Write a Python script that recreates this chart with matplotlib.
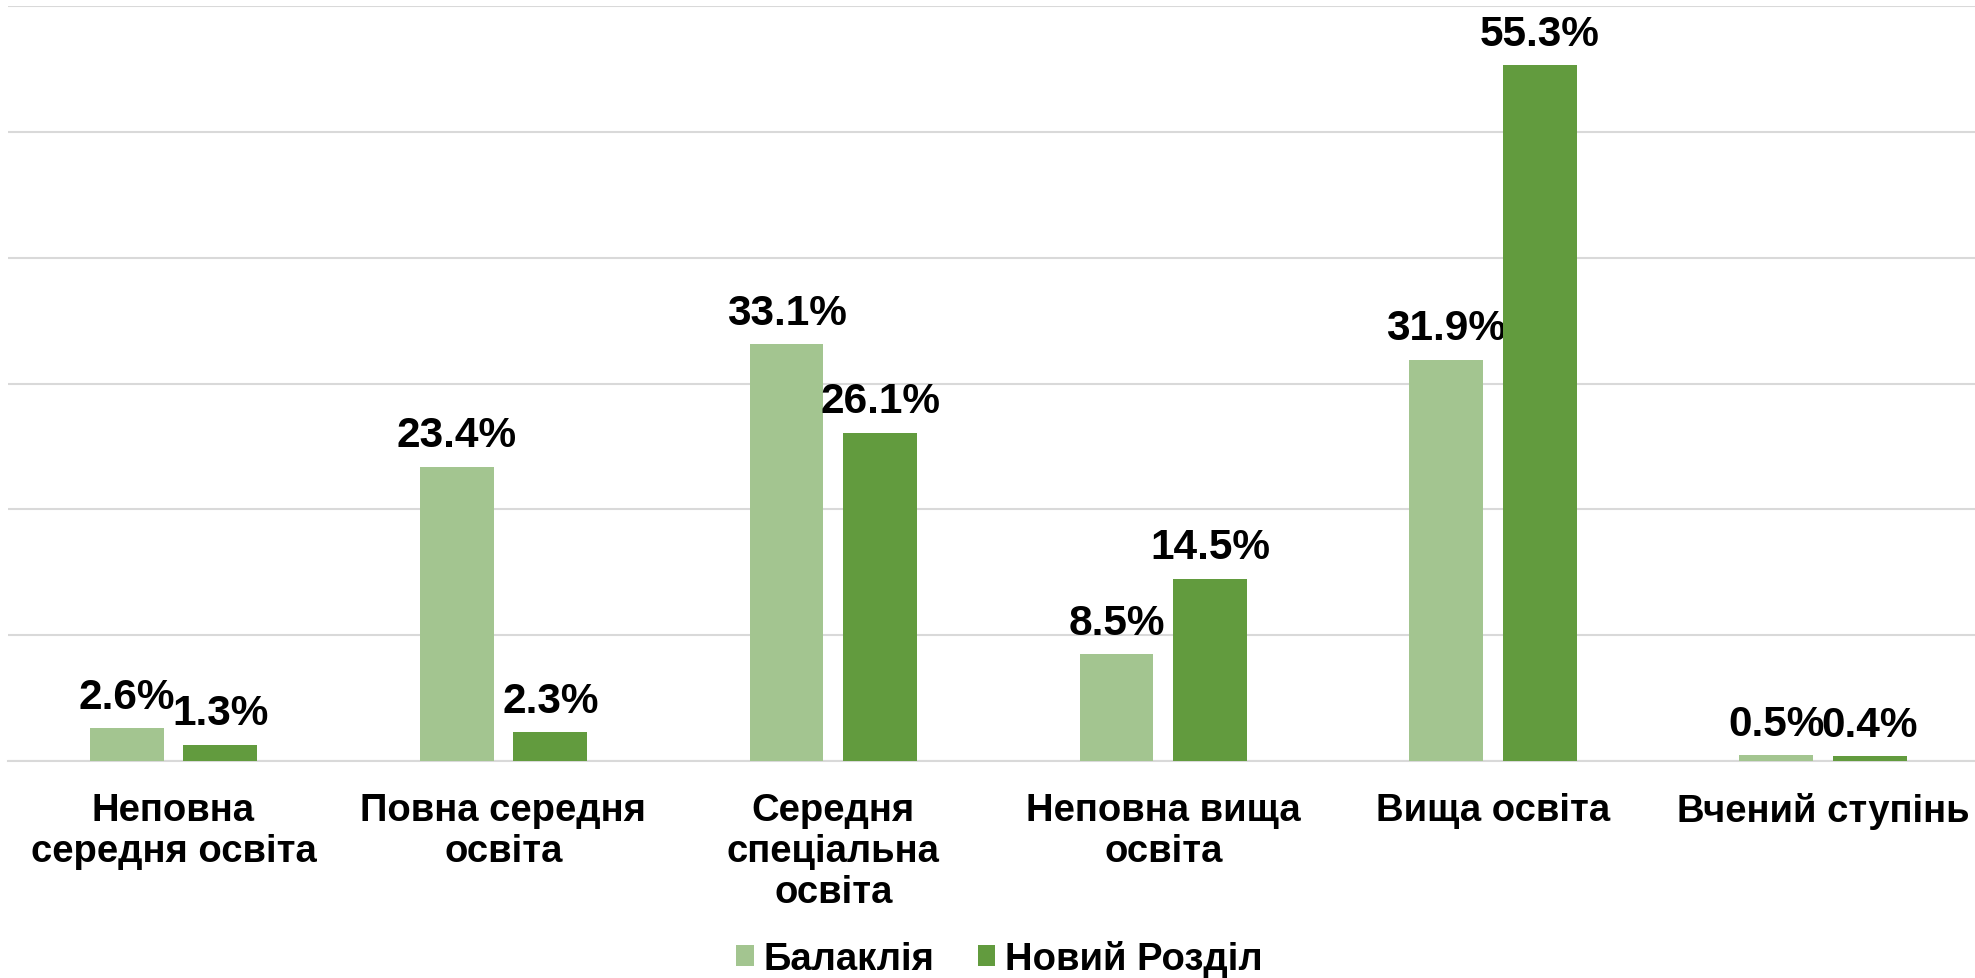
import numpy as np
import matplotlib
matplotlib.use("Agg")
import matplotlib.pyplot as plt
from matplotlib.patches import Patch

# data
categories = ["Неповна\nсередня освіта", "Повна середня\nосвіта", "Середня\nспеціальна\nосвіта",
              "Неповна вища\nосвіта", "Вища освіта", "Вчений ступінь"]
series_names = ["Балаклія", "Новий Розділ"]
balakliia = [2.6, 23.4, 33.1, 8.5, 31.9, 0.5]
novyi_rozdil = [1.3, 2.3, 26.1, 14.5, 55.3, 0.4]

colors = ["#A3C590", "#629B3E"]
FONT = "Liberation Sans"
FS = 27.5
FS_VAL = 30.5

fig = plt.figure(figsize=(19.75, 9.79), dpi=100)
ax = fig.add_axes([0.0043, 0.2217, 0.9957, 0.7711])

x = np.arange(len(categories))
width = 0.224
offset = 0.142

for vals, off, col in [(balakliia, -offset, colors[0]), (novyi_rozdil, offset, colors[1])]:
    bars = ax.bar(x + off, vals, width=width, color=col, zorder=3)
    for b, v in zip(bars, vals):
        ax.annotate(f"{v:.1f}%", (b.get_x() + b.get_width() / 2, v),
                    xytext=(0, 8), textcoords="offset points",
                    ha="center", va="bottom", fontsize=FS_VAL, fontweight="bold",
                    family=FONT, color="black")

ax.set_xlim(-0.5, 5.46)
ax.set_ylim(0, 60)
ax.set_yticks(np.arange(0, 61, 10))
ax.set_yticklabels([])
ax.tick_params(axis="y", length=0)
ax.grid(axis="y", color="#D9D9D9", linewidth=1.5, zorder=0)
ax.set_axisbelow(True)
for s in ["top", "right", "left"]:
    ax.spines[s].set_visible(False)
ax.spines["bottom"].set_color("#D9D9D9")
ax.spines["bottom"].set_linewidth(1.5)

ax.set_xticks(x)
ax.set_xticklabels(categories, fontsize=FS, fontweight="bold", family=FONT, linespacing=1.18)
ax.tick_params(axis="x", length=0, pad=22)

handles = [Patch(facecolor=c, label=n) for c, n in zip(colors, series_names)]
fig.legend(handles=handles, loc="center", bbox_to_anchor=(0.506, 0.02), ncol=2, frameon=False,
           prop={"family": FONT, "weight": "bold", "size": FS},
           handlelength=0.45, handleheight=0.45, handletextpad=0.25, columnspacing=1.15)

fig.savefig("out.png", dpi=100)
